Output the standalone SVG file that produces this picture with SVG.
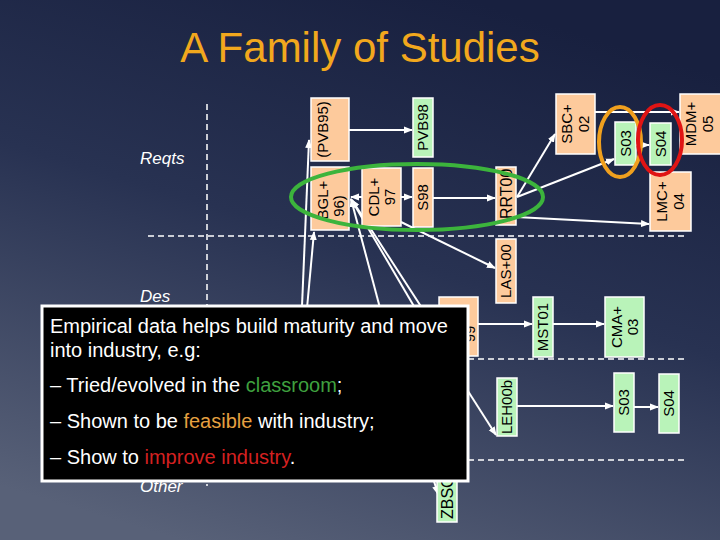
<svg xmlns="http://www.w3.org/2000/svg" width="720" height="540" viewBox="0 0 720 540">
<defs>
<linearGradient id="bg" x1="0.65" y1="0" x2="0.25" y2="1">
<stop offset="0" stop-color="#18203f"/>
<stop offset="0.45" stop-color="#283252"/>
<stop offset="1" stop-color="#586178"/>
</linearGradient>
<marker id="arr" markerUnits="userSpaceOnUse" markerWidth="9" markerHeight="8" refX="8" refY="4" orient="auto">
<path d="M0,0.5 L9,4 L0,7.5 Z" fill="#ffffff"/>
</marker>
<clipPath id="clipRRT"><rect x="496" y="167" width="20" height="58"/></clipPath>
<style>
.dash{stroke:#ffffff;stroke-width:1.5;stroke-dasharray:6,4;fill:none}
.peach{fill:#fdca9c;stroke:#ffffff;stroke-width:1.5}
.green{fill:#b9f3b9;stroke:#ffffff;stroke-width:1.5}
.lbl{font-family:"Liberation Sans",Arial,sans-serif;font-size:15px;fill:#000000;text-anchor:middle}
.lbls{font-family:"Liberation Sans",Arial,sans-serif;font-size:16px;fill:#000000;text-anchor:start}
.row{font-family:"Liberation Sans",Arial,sans-serif;font-size:17px;font-style:italic;fill:#ffffff}
.conn line{stroke:#ffffff;stroke-width:2;marker-end:url(#arr)}
.call{font-family:"Liberation Sans",Arial,sans-serif;font-size:20px;fill:#ffffff}
</style>
</defs>
<rect x="0" y="0" width="720" height="540" fill="url(#bg)"/>
<text x="360" y="62" text-anchor="middle" font-family="'Liberation Sans',Arial,sans-serif" font-size="42" fill="#f2a81d">A Family of Studies</text>

<g id="grid">
<line class="dash" x1="207" y1="104" x2="207" y2="486"/>
<line class="dash" x1="148" y1="236" x2="686" y2="236"/>
<line class="dash" x1="148" y1="359" x2="686" y2="359"/>
<line class="dash" x1="148" y1="460" x2="686" y2="460"/>
</g>

<g id="rows">
<text class="row" x="140" y="164">Reqts</text>
<text class="row" x="140" y="302">Des</text>
<text class="row" x="140" y="492">Other</text>
</g>

<g id="connectors" class="conn">
<line x1="349" y1="130" x2="412" y2="130"/>
<line x1="301" y1="330" x2="309" y2="140"/>
<line x1="305" y1="330" x2="314" y2="232"/>
<line x1="362" y1="197" x2="351" y2="197"/>
<line x1="380" y1="308" x2="351" y2="199"/>
<line x1="415" y1="308" x2="351" y2="199"/>
<line x1="422" y1="308" x2="352" y2="200"/>
<line x1="401" y1="222" x2="495" y2="268"/>
<line x1="401" y1="197" x2="412" y2="197"/>
<line x1="433" y1="198" x2="495" y2="198"/>
<line x1="517" y1="197" x2="555" y2="134"/>
<line x1="517" y1="197" x2="614" y2="159"/>
<line x1="516" y1="217" x2="649" y2="224"/>
<line x1="595" y1="112" x2="679" y2="112"/>
<line x1="636" y1="145" x2="649" y2="145"/>
<line x1="478" y1="324" x2="532" y2="324"/>
<line x1="553" y1="324" x2="604" y2="324"/>
<line x1="517" y1="406" x2="613" y2="406"/>
<line x1="634" y1="407" x2="658" y2="407"/>
<line x1="466" y1="388" x2="496" y2="435"/>
<line x1="433" y1="478" x2="438" y2="494"/>
</g>

<g id="n-pvb95"><rect class="peach" x="311" y="98" width="38" height="63"/>
<text class="lbl" transform="translate(323,129.5) rotate(-90)" dy=".35em">(PVB95)</text></g>
<g id="n-bgl"><rect class="peach" x="311" y="167" width="38" height="63"/>
<text class="lbl" transform="translate(323,200) rotate(-90)" dy=".35em">BGL+</text>
<text class="lbl" transform="translate(339,206) rotate(-90)" dy=".35em">96)</text></g>
<g id="n-cdl"><rect class="peach" x="362" y="168" width="39" height="58"/>
<text class="lbl" transform="translate(374,197) rotate(-90)" dy=".35em">CDL+</text>
<text class="lbl" transform="translate(390,197) rotate(-90)" dy=".35em">97</text></g>
<g id="n-s98"><rect class="peach" x="413" y="168" width="20" height="59"/>
<text class="lbl" transform="translate(423,197.5) rotate(-90)" dy=".35em">S98</text></g>
<g id="n-pvb98"><rect class="green" x="413" y="98" width="20" height="59"/>
<text class="lbl" transform="translate(423,127.5) rotate(-90)" dy=".35em">PVB98</text></g>
<g id="n-rrt00"><rect class="peach" x="496" y="167" width="20" height="58"/>
<g clip-path="url(#clipRRT)"><text class="lbls" transform="translate(506,219) rotate(-90)" dy=".35em">RRT00</text></g></g>
<g id="n-las00"><rect class="peach" x="496" y="239" width="20" height="64"/>
<text class="lbl" transform="translate(506,271) rotate(-90)" dy=".35em">LAS+00</text></g>
<g id="n-sbc02"><rect class="peach" x="556" y="94" width="39" height="60"/>
<text class="lbl" transform="translate(567,124) rotate(-90)" dy=".35em">SBC+</text>
<text class="lbl" transform="translate(584,124) rotate(-90)" dy=".35em">02</text></g>
<g id="n-s03t"><rect class="green" x="615" y="122" width="21" height="43"/>
<text class="lbl" transform="translate(625.5,143.5) rotate(-90)" dy=".35em">S03</text></g>
<g id="n-s04t"><rect class="green" x="650" y="123" width="21" height="42"/>
<text class="lbl" transform="translate(660.5,144) rotate(-90)" dy=".35em">S04</text></g>
<g id="n-mdm05"><rect class="peach" x="680" y="94" width="42" height="60"/>
<text class="lbl" transform="translate(691,124) rotate(-90)" dy=".35em">MDM+</text>
<text class="lbl" transform="translate(708,124) rotate(-90)" dy=".35em">05</text></g>
<g id="n-lmc04"><rect class="peach" x="650" y="172" width="41" height="59"/>
<text class="lbl" transform="translate(662,201.5) rotate(-90)" dy=".35em">LMC+</text>
<text class="lbl" transform="translate(679,201.5) rotate(-90)" dy=".35em">04</text></g>
<g id="n-99"><rect class="peach" x="439" y="297" width="39" height="59"/>
<text class="lbl" transform="translate(470,334) rotate(-90)" dy=".35em">99</text></g>
<g id="n-mst01"><rect class="green" x="533" y="297" width="20" height="60"/>
<text class="lbl" transform="translate(543,327) rotate(-90)" dy=".35em">MST01</text></g>
<g id="n-cma03"><rect class="green" x="605" y="297" width="39" height="60"/>
<text class="lbl" transform="translate(617,327) rotate(-90)" dy=".35em">CMA+</text>
<text class="lbl" transform="translate(633,327) rotate(-90)" dy=".35em">03</text></g>
<g id="n-leh00b"><rect class="green" x="497" y="378" width="20" height="58"/>
<text class="lbl" transform="translate(507,407) rotate(-90)" dy=".35em">LEH00b</text></g>
<g id="n-s03b"><rect class="green" x="614" y="373" width="20" height="59"/>
<text class="lbl" transform="translate(624,402.5) rotate(-90)" dy=".35em">S03</text></g>
<g id="n-s04b"><rect class="green" x="659" y="374" width="20" height="59"/>
<text class="lbl" transform="translate(669,403.5) rotate(-90)" dy=".35em">S04</text></g>
<g id="n-zbsc"><rect class="green" x="437" y="480" width="20" height="42"/>
<text class="lbls" transform="translate(447,519) rotate(-90)" dy=".35em">ZBSC</text></g>

<g id="highlights" fill="none" stroke-width="4">
<ellipse cx="417" cy="197" rx="126" ry="33" stroke="#3cb43c"/>
<ellipse cx="620" cy="142" rx="21" ry="35" stroke="#f0a01e"/>
<ellipse cx="660" cy="140" rx="22" ry="35" stroke="#e01414"/>
</g>

<g id="callout">
<rect x="42" y="306" width="426" height="175" fill="#000000" stroke="#ffffff" stroke-width="3"/>
<text class="call" x="50" y="333">Empirical data helps build maturity and move</text>
<text class="call" x="50" y="357">into industry, e.g:</text>
<text class="call" x="50" y="392">– Tried/evolved in the <tspan fill="#3fa03f">classroom</tspan>;</text>
<text class="call" x="50" y="428">– Shown to be <tspan fill="#e6a040">feasible</tspan> with industry;</text>
<text class="call" x="50" y="464">– Show to <tspan fill="#d42020">improve industry</tspan>.</text>
</g>
</svg>
